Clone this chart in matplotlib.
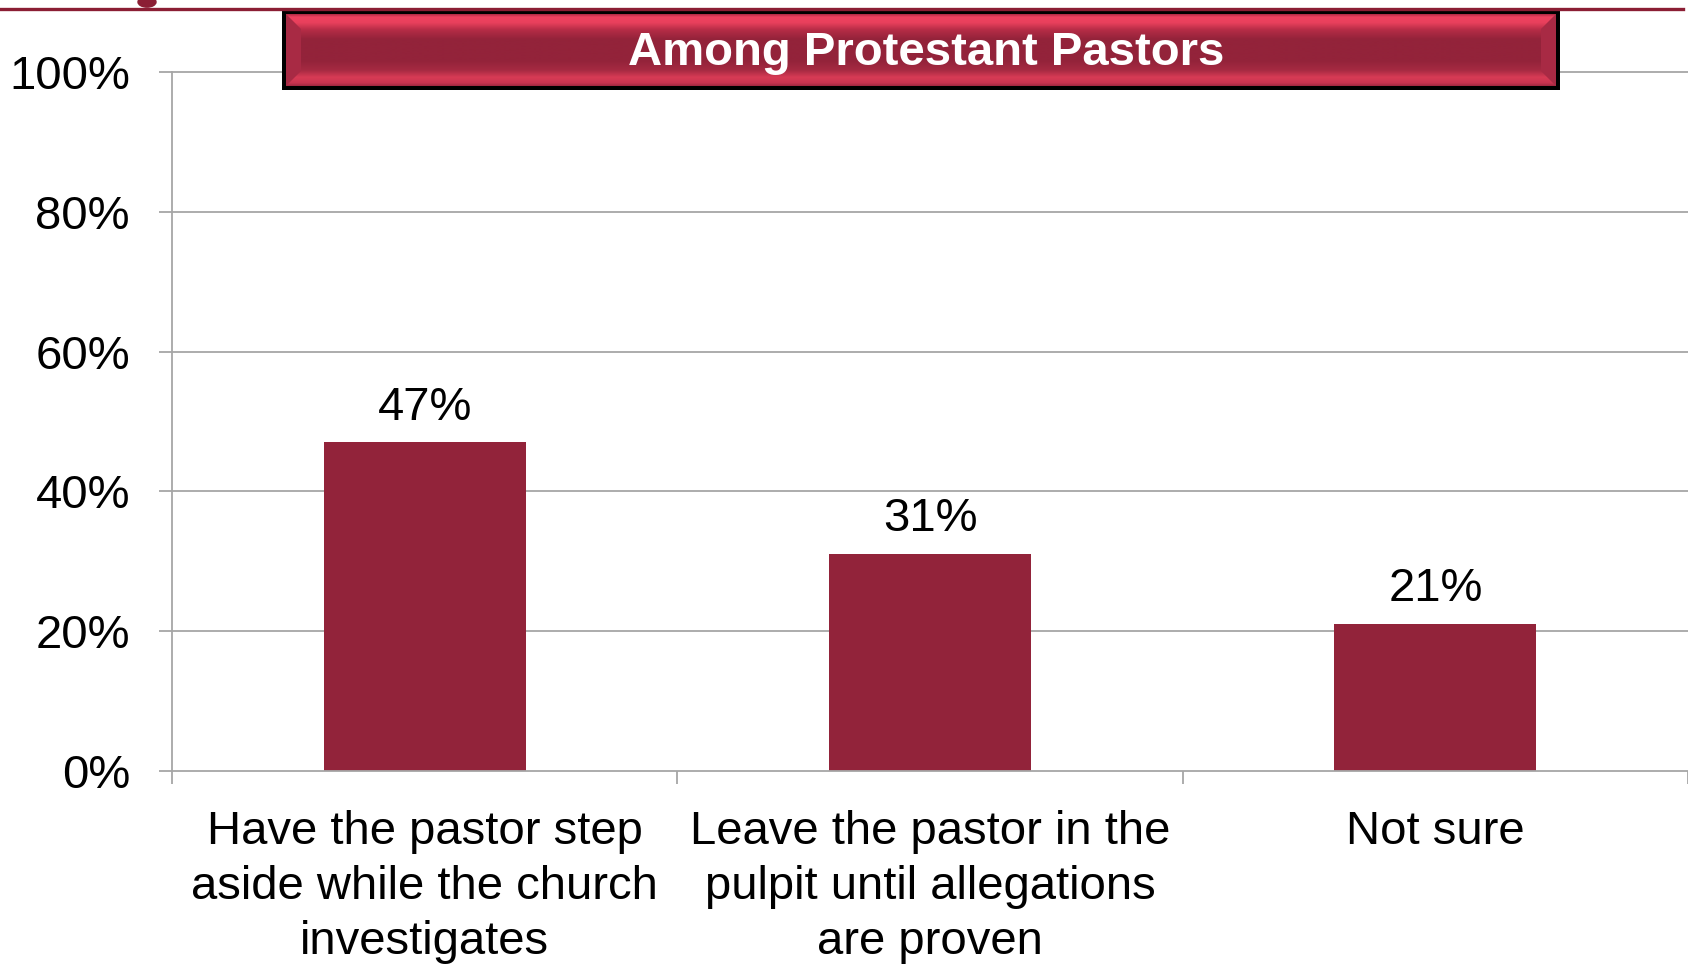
import numpy as np
import matplotlib
matplotlib.use("Agg")
import matplotlib.pyplot as plt
from matplotlib.patches import Polygon, Circle
from matplotlib.lines import Line2D
from matplotlib.ticker import FixedLocator, NullFormatter, FixedFormatter

plt.rcParams['font.family'] = ['Liberation Sans', 'DejaVu Sans']

# ---- data ----
categories = ["Have the pastor step\naside while the church\ninvestigates",
              "Leave the pastor in the\npulpit until allegations\nare proven",
              "Not sure"]
values = [47, 31, 21]
yticks = [0, 20, 40, 60, 80, 100]
ytick_labels = ["0%", "20%", "40%", "60%", "80%", "100%"]
title = "Among Protestant Pastors"

W, H = 1688, 964
fig = plt.figure(figsize=(W / 100, H / 100), dpi=100)
fig.patch.set_facecolor("white")

BAR = "#92233A"
GRID = "#A6A6A6"

# main axes
ax = fig.add_axes([172 / W, (H - 771) / H, (W - 172) / W, 699 / H])
ax.set_xlim(-0.5, 2.5)
ax.set_ylim(0, 100)
x = np.arange(len(categories))
ax.bar(x, values, width=0.4, color=BAR, zorder=3)

for v in yticks[1:]:
    ax.axhline(v, color=GRID, lw=1.3, zorder=1, clip_on=False)

for s in ["top", "right"]:
    ax.spines[s].set_visible(False)
for s in ["left", "bottom"]:
    ax.spines[s].set_color(GRID)
    ax.spines[s].set_linewidth(1.3)
    ax.spines[s].set_zorder(4)

ax.set_yticks(yticks)
ax.set_yticklabels(ytick_labels)
ax.tick_params(axis="y", direction="out", length=9.3, width=1.3, color=GRID,
               pad=21, labelsize=34, labelcolor="black")

ax.xaxis.set_major_locator(FixedLocator([-0.5, 0.5, 1.5, 2.5]))
ax.xaxis.set_major_formatter(NullFormatter())
ax.xaxis.set_minor_locator(FixedLocator(list(x)))
ax.xaxis.set_minor_formatter(FixedFormatter(categories))
ax.tick_params(axis="x", which="major", direction="out", length=9.3, width=1.3, color=GRID)
ax.tick_params(axis="x", which="minor", length=0, pad=28, labelsize=34, labelcolor="black")
for lab in ax.xaxis.get_minorticklabels():
    lab.set_linespacing(1.32)
    lab.set_horizontalalignment("center")

for xi, v in zip(x, values):
    ax.annotate(f"{v}%", (xi, v), xytext=(0, 16.5), textcoords="offset points",
                ha="center", va="baseline", fontsize=34, color="black", zorder=5)

# top decorative line
fig.add_artist(Line2D([0, 1683 / W], [1 - 8.5 / H, 1 - 8.5 / H], color="#8B1E34",
                      lw=2.4, transform=fig.transFigure))
fig.add_artist(Circle((147 / W, 1 - 2 / H), 9 / W, color="#8B1E34",
                      transform=fig.transFigure))

# title box with bevel
bx0, bx1, by0, by1 = 282, 1560, 10, 90
tax = fig.add_axes([bx0 / W, (H - by1) / H, (bx1 - bx0) / W, (by1 - by0) / H])
tax.set_xlim(0, bx1 - bx0)
tax.set_ylim(by1 - by0, 0)
tax.set_axis_off()
tw, th = bx1 - bx0, by1 - by0
tax.add_patch(Polygon([[0, 0], [tw, 0], [tw, th], [0, th]], closed=True,
                      facecolor="black", edgecolor="none"))
b = 4  # border
iw, ih = tw - 2 * b, th - 2 * b
stops_pos = [0.0, 0.04, 0.12, 0.22, 0.35, 0.65, 0.78, 0.88, 0.96, 1.0]
stops_col = ["#B02A44", "#F04260", "#E8405C", "#B52C46", "#93233A",
             "#93233A", "#A52A42", "#D83B55", "#C93450", "#A02840"]
rgb = np.array([matplotlib.colors.to_rgb(c) for c in stops_col])
yy = np.linspace(0, 1, 200)
grad = np.stack([np.interp(yy, stops_pos, rgb[:, k]) for k in range(3)], axis=-1)
grad = np.repeat(grad[:, None, :], 2, axis=1)
tax.imshow(grad, extent=[b, b + iw, b + ih, b], aspect="auto", zorder=2,
           interpolation="bilinear")
bev = 15
tax.add_patch(Polygon([[b, b], [b + bev, b + bev], [b + bev, b + ih - bev], [b, b + ih]],
                      closed=True, facecolor="#A82A44", edgecolor="none", zorder=3))
tax.add_patch(Polygon([[b + iw, b], [b + iw - bev, b + bev], [b + iw - bev, b + ih - bev],
                       [b + iw, b + ih]], closed=True, facecolor="#A82A44",
                      edgecolor="none", zorder=3))
tax.text(tw / 2 + 5, th / 2 + 3, title, ha="center", va="center", color="white",
         fontsize=34, fontweight="bold", zorder=4)

fig.savefig("out.png", dpi=100, facecolor="white")
